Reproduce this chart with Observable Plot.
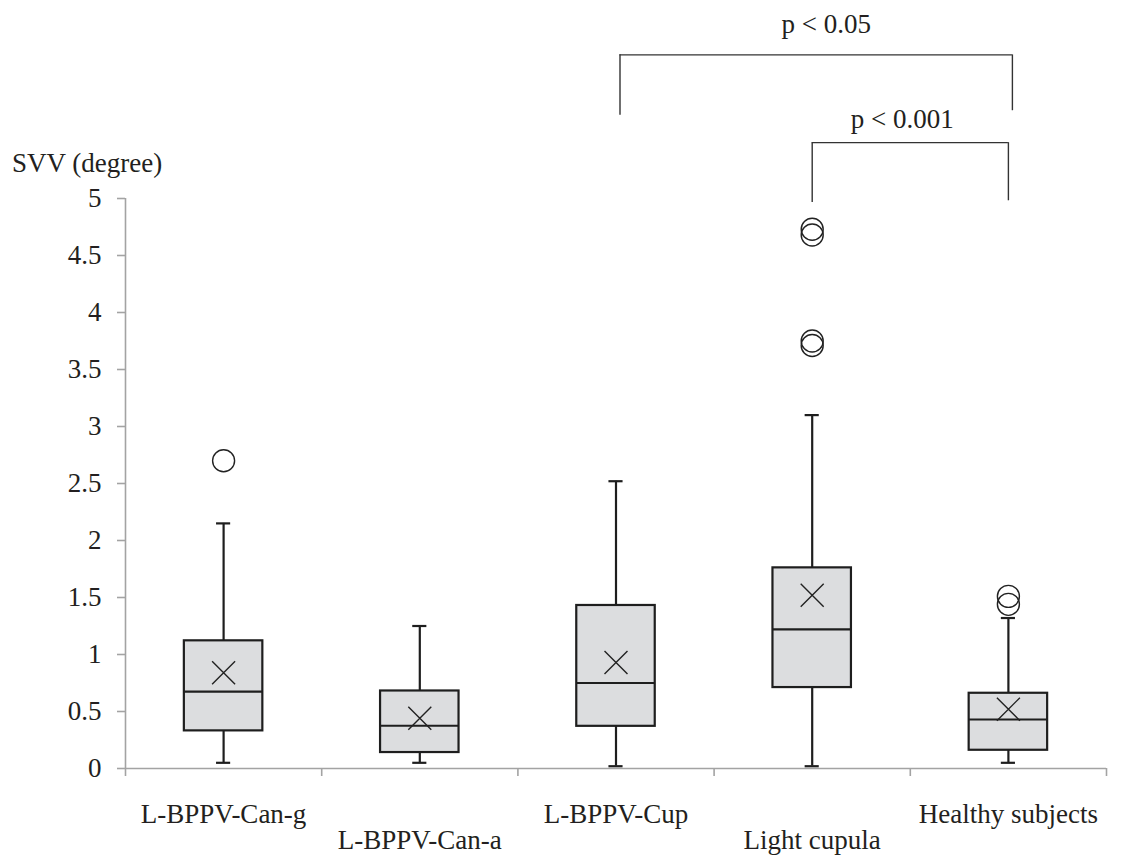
<!DOCTYPE html>
<html>
<head>
<meta charset="utf-8">
<style>
  html, body { margin: 0; padding: 0; background: #ffffff; }
  #wrap { position: relative; width: 1138px; height: 857px; }
  #ytitle {
    position: absolute; left: 12px; top: 150px; z-index: 2;
    font-family: 'Liberation Serif'; font-size: 27px; line-height: 27px;
    color: #231f20; white-space: nowrap;
  }
  #chart { position: absolute; left: 0; top: 0; }
</style>
<script src="https://cdn.jsdelivr.net/npm/d3@7"></script>
<script src="https://cdn.jsdelivr.net/npm/@observablehq/plot@0.6"></script>
</head>
<body>
<div id="wrap">
  <div id="ytitle">SVV (degree)</div>
  <div id="chart"></div>
</div>
<script>
// ---- data ----
const categories  = ["L-BPPV-Can-g", "L-BPPV-Can-a", "L-BPPV-Cup", "Light cupula", "Healthy subjects"];
const whiskerLow  = [0.05, 0.05, 0.02, 0.02, 0.05];
const quartile1   = [0.33, 0.14, 0.37, 0.71, 0.16];
const median      = [0.675, 0.375, 0.75, 1.22, 0.43];
const quartile3   = [1.12, 0.68, 1.43, 1.76, 0.66];
const whiskerHigh = [2.15, 1.25, 2.52, 3.10, 1.32];
const mean        = [0.84, 0.44, 0.93, 1.52, 0.52];

const outlierGroup = ["L-BPPV-Can-g", "Light cupula", "Light cupula", "Light cupula", "Light cupula", "Healthy subjects", "Healthy subjects"];
const outlierValue = [2.70, 4.73, 4.68, 3.75, 3.71, 1.51, 1.44];

const yTicks = [0, 0.5, 1, 1.5, 2, 2.5, 3, 3.5, 4, 4.5, 5];

// significance brackets
const bracketFrom   = ["L-BPPV-Cup", "Light cupula"];
const bracketTo     = ["Healthy subjects", "Healthy subjects"];
const bracketTop    = [6.26, 5.49];
const bracketFromLo = [5.73, 4.965];
const bracketToLo   = [5.77, 4.98];
const bracketLabel  = ["p < 0.05", "p < 0.001"];

// ---- style ----
const INK = "#231f20";
const AXIS = "#a3a3a3";
const BOX_FILL = "#dcdddf";
const BOX_HALF = 0.2;     // half box width, in category units
const CAP_HALF = 0.036;   // half whisker-cap width
const bracketDx = [4, 0];
const labelDx = [10, -8];
const labelDy = [-22, -15];

// ---- build tables ----
const pos = c => categories.indexOf(c) + 0.5;
const boxes = categories.map((c, i) => ({
  cat: c, pos: pos(c),
  low: whiskerLow[i], q1: quartile1[i], med: median[i], q3: quartile3[i], high: whiskerHigh[i], mean: mean[i]
}));
const outliers = outlierGroup.map((g, i) => ({pos: pos(g), value: outlierValue[i]}));
const brackets = bracketFrom.map((f, i) => ({
  x1: pos(f), x2: pos(bracketTo[i]), top: bracketTop[i], lo1: bracketFromLo[i], lo2: bracketToLo[i], label: bracketLabel[i]
}));

const bracketMarks = brackets.flatMap((b, i) => [
  Plot.ruleY([b], {y: "top", x1: "x1", x2: "x2", dx: bracketDx[i], stroke: "#333", strokeWidth: 1.4}),
  Plot.ruleX([b], {x: "x1", y1: "lo1", y2: "top", dx: bracketDx[i], stroke: "#333", strokeWidth: 1.4}),
  Plot.ruleX([b], {x: "x2", y1: "lo2", y2: "top", dx: bracketDx[i], stroke: "#333", strokeWidth: 1.4}),
  Plot.text([b], {x: d => (d.x1 + d.x2) / 2, y: "top", text: "label", dx: bracketDx[i] + labelDx[i], dy: labelDy[i], lineAnchor: "bottom", fill: INK})
]);

const evenCats = categories.filter((d, i) => i % 2 === 0);
const oddCats = categories.filter((d, i) => i % 2 === 1);

const chart = Plot.plot({
  width: 1138,
  height: 857,
  marginLeft: 125,
  marginRight: 32,
  marginTop: 198,
  marginBottom: 89,
  x: {domain: [0, 5], label: null},
  y: {domain: [0, 5], label: null},
  style: {fontFamily: "Liberation Serif", fontSize: "27px"},
  marks: [
    // axes
    Plot.ruleX([0], {stroke: AXIS, strokeWidth: 1.6}),
    Plot.ruleY([0], {stroke: AXIS, strokeWidth: 1.6}),
    Plot.axisY({ticks: yTicks, tickSize: 8, tickPadding: 16, stroke: AXIS, strokeWidth: 1.6, fill: INK, tickFormat: d => String(d), label: null}),
    Plot.axisX({ticks: [0, 1, 2, 3, 4, 5], tickSize: 8, stroke: AXIS, strokeWidth: 1.6, tickFormat: () => "", label: null}),
    // category labels, staggered
    Plot.text(evenCats, {x: d => pos(d), y: () => 0, text: d => d, dy: 54, lineAnchor: "bottom", fill: INK}),
    Plot.text(oddCats, {x: d => pos(d), y: () => 0, text: d => d, dy: 80, lineAnchor: "bottom", fill: INK}),
    // whiskers
    Plot.ruleX(boxes, {x: "pos", y1: "q3", y2: "high", stroke: "#1e1e1e", strokeWidth: 2.2}),
    Plot.ruleX(boxes, {x: "pos", y1: "low", y2: "q1", stroke: "#1e1e1e", strokeWidth: 2.2}),
    Plot.ruleY(boxes, {y: "high", x1: d => d.pos - CAP_HALF, x2: d => d.pos + CAP_HALF, stroke: "#1e1e1e", strokeWidth: 2.2}),
    Plot.ruleY(boxes, {y: "low", x1: d => d.pos - CAP_HALF, x2: d => d.pos + CAP_HALF, stroke: "#1e1e1e", strokeWidth: 2.2}),
    // boxes
    Plot.rect(boxes, {x1: d => d.pos - BOX_HALF, x2: d => d.pos + BOX_HALF, y1: "q1", y2: "q3", fill: BOX_FILL, stroke: "#1e1e1e", strokeWidth: 2.2}),
    Plot.ruleY(boxes, {y: "med", x1: d => d.pos - BOX_HALF, x2: d => d.pos + BOX_HALF, stroke: "#1e1e1e", strokeWidth: 2.2}),
    // means
    Plot.dot(boxes, {x: "pos", y: "mean", symbol: "times", r: 10.5, stroke: "#222", strokeWidth: 1.4}),
    // outliers
    Plot.dot(outliers, {x: "pos", y: "value", r: 11, stroke: "#222", strokeWidth: 1.4, fill: "none"}),
    // significance brackets
    ...bracketMarks
  ]
});

document.getElementById("chart").appendChild(chart);
</script>
</body>
</html>
